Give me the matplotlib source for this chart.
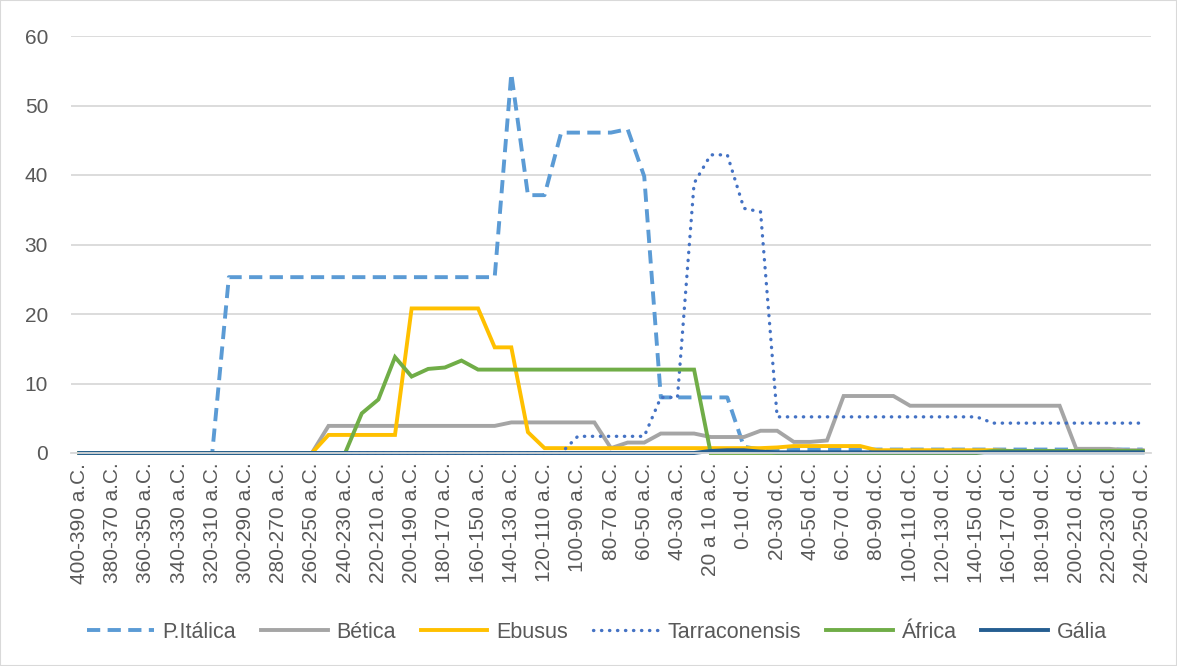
import matplotlib
matplotlib.use('Agg')
import matplotlib.pyplot as plt
from matplotlib.patches import Rectangle

# Category labels (10-year periods), one every 10 years
periods = [
    '400-390 a.C.', '390-380 a.C.', '380-370 a.C.', '370-360 a.C.', '360-350 a.C.',
    '350-340 a.C.', '340-330 a.C.', '330-320 a.C.', '320-310 a.C.', '310-300 a.C.',
    '300-290 a.C.', '290-280 a.C.', '280-270 a.C.', '270-260 a.C.', '260-250 a.C.',
    '250-240 a.C.', '240-230 a.C.', '230-220 a.C.', '220-210 a.C.', '210-200 a.C.',
    '200-190 a.C.', '190-180 a.C.', '180-170 a.C.', '170-160 a.C.', '160-150 a.C.',
    '150-140 a.C.', '140-130 a.C.', '130-120 a.C.', '120-110 a.C.', '110-100 a.C.',
    '100-90 a.C.', '90-80 a.C.', '80-70 a.C.', '70-60 a.C.', '60-50 a.C.',
    '50-40 a.C.', '40-30 a.C.', '30-20 a.C.', '20 a 10 a.C.', '10-0 a.C.',
    '0-10 d.C.', '10-20 d.C.', '20-30 d.C.', '30-40 d.C.', '40-50 d.C.',
    '50-60 d.C.', '60-70 d.C.', '70-80 d.C.', '80-90 d.C.', '90-100 d.C.',
    '100-110 d.C.', '110-120 d.C.', '120-130 d.C.', '130-140 d.C.', '140-150 d.C.',
    '150-160 d.C.', '160-170 d.C.', '170-180 d.C.', '180-190 d.C.', '190-200 d.C.',
    '200-210 d.C.', '210-220 d.C.', '220-230 d.C.', '230-240 d.C.', '240-250 d.C.',
]

italica = [
    0, 0, 0, 0, 0, 0, 0, 0, 0, 25.3, 25.3, 25.3, 25.3,
    25.3, 25.3, 25.3, 25.3, 25.3, 25.3, 25.3, 25.3, 25.3, 25.3, 25.3, 25.3, 25.3,
    54.6, 37.1, 37.1, 46.1, 46.1, 46.1, 46.1, 46.6, 39.8, 8.0, 8.0, 8.0, 8.0,
    8.0, 0.9, 0.5, 0.5, 0.5, 0.5, 0.5, 0.5, 0.5, 0.5, 0.5, 0.5, 0.5,
    0.5, 0.5, 0.5, 0.5, 0.5, 0.5, 0.5, 0.5, 0.5, 0.5, 0.5, 0.5, 0.5,
]
betica = [
    0, 0, 0, 0, 0, 0, 0, 0, 0, 0, 0, 0, 0,
    0, 0, 3.9, 3.9, 3.9, 3.9, 3.9, 3.9, 3.9, 3.9, 3.9, 3.9, 3.9,
    4.4, 4.4, 4.4, 4.4, 4.4, 4.4, 0.7, 1.5, 1.5, 2.8, 2.8, 2.8, 2.3,
    2.3, 2.3, 3.2, 3.2, 1.6, 1.6, 1.8, 8.2, 8.2, 8.2, 8.2, 6.8, 6.8,
    6.8, 6.8, 6.8, 6.8, 6.8, 6.8, 6.8, 6.8, 0.6, 0.6, 0.6, 0.4, 0.4,
]
ebusus = [
    0, 0, 0, 0, 0, 0, 0, 0, 0, 0, 0, 0, 0,
    0, 0, 2.6, 2.6, 2.6, 2.6, 2.6, 20.8, 20.8, 20.8, 20.8, 20.8, 15.2,
    15.2, 3.0, 0.7, 0.7, 0.7, 0.7, 0.7, 0.7, 0.7, 0.7, 0.7, 0.7, 0.7,
    0.7, 0.7, 0.7, 0.8, 1.0, 1.0, 1.0, 1.0, 1.0, 0.4, 0.4, 0.4, 0.4,
    0.4, 0.4, 0.4, 0.4, 0.3, 0.3, 0.3, 0.3, 0.3, 0.3, 0.3, 0.3, 0.3,
]
tarraconensis = [
    0, 0, 0, 0, 0, 0, 0, 0, 0, 0, 0, 0, 0,
    0, 0, 0, 0, 0, 0, 0, 0, 0, 0, 0, 0, 0,
    0, 0, 0, 0, 2.4, 2.4, 2.4, 2.4, 2.4, 8.0, 8.0, 38.8, 42.9,
    42.9, 35.2, 34.7, 5.2, 5.2, 5.2, 5.2, 5.2, 5.2, 5.2, 5.2, 5.2, 5.2,
    5.2, 5.2, 5.2, 4.3, 4.3, 4.3, 4.3, 4.3, 4.3, 4.3, 4.3, 4.3, 4.3,
]
africa = [
    0, 0, 0, 0, 0, 0, 0, 0, 0, 0, 0, 0, 0,
    0, 0, 0, 0, 5.7, 7.7, 13.8, 11.0, 12.1, 12.3, 13.3, 12.0, 12.0,
    12.0, 12.0, 12.0, 12.0, 12.0, 12.0, 12.0, 12.0, 12.0, 12.0, 12.0, 12.0, 0,
    0, 0, 0, 0, 0, 0, 0, 0, 0, 0, 0, 0, 0,
    0, 0, 0, 0.3, 0.3, 0.3, 0.3, 0.3, 0.3, 0.3, 0.3, 0.3, 0.3,
]
galia = [
    0, 0, 0, 0, 0, 0, 0, 0, 0, 0, 0, 0, 0,
    0, 0, 0, 0, 0, 0, 0, 0, 0, 0, 0, 0, 0,
    0, 0, 0, 0, 0, 0, 0, 0, 0, 0, 0, 0, 0.3,
    0.4, 0.4, 0.2, 0.1, 0.1, 0.1, 0.1, 0.1, 0.1, 0.1, 0.1, 0.1, 0.1,
    0.1, 0.1, 0.1, 0.1, 0.1, 0.1, 0.1, 0.1, 0.1, 0.1, 0.1, 0.1, 0.1,
]

series_names = ['P.Itálica', 'Bética', 'Ebusus', 'Tarraconensis', 'África', 'Gália']
y_ticks = [0, 10, 20, 30, 40, 50, 60]

TEXT_GREY = '#595959'
GRID_GREY = '#D9D9D9'


def plot_chart():
    plt.rcParams['font.family'] = ['Liberation Sans', 'DejaVu Sans']
    fig = plt.figure(figsize=(11.77, 6.66), dpi=100)
    ax = fig.add_axes([71 / 1177, 1 - 453 / 666, 1080 / 1177, 417 / 666])

    x = list(range(len(periods)))
    styles = [
        dict(color='#5B9BD5', linestyle=(0, (3.4, 1.9)), dash_capstyle='butt'),
        dict(color='#A5A5A5', linestyle='-'),
        dict(color='#FFC000', linestyle='-'),
        dict(color='#4472C4', linestyle=(0, (0.1, 2.3)), dash_capstyle='round', lw=2.4),
        dict(color='#70AD47', linestyle='-'),
        dict(color='#255E91', linestyle='-'),
    ]
    data = [italica, betica, ebusus, tarraconensis, africa, galia]
    for name, values, st in zip(series_names, data, styles):
        kw = dict(lw=2.8, solid_joinstyle='miter')
        kw.update(st)
        ax.plot(x, values, label=name, clip_on=False, **kw)

    ax.set_xlim(-0.5, len(periods) - 0.5)
    ax.set_ylim(0, 60)
    ax.set_yticks(y_ticks)
    ax.set_xticks(x[::2])
    ax.set_xticklabels(periods[::2], rotation=90, va='top', ha='center')

    ax.yaxis.grid(True, color=GRID_GREY, lw=1.3)
    ax.set_axisbelow(True)
    for side in ['top', 'right', 'left']:
        ax.spines[side].set_visible(False)
    ax.spines['bottom'].set_color(GRID_GREY)
    ax.spines['bottom'].set_linewidth(1.3)

    ax.tick_params(axis='both', length=0, colors=TEXT_GREY, labelsize=15)
    ax.tick_params(axis='y', pad=16.5)
    ax.tick_params(axis='x', pad=7)

    fig.legend(loc='center', bbox_to_anchor=(597 / 1177, 1 - 632 / 666), ncol=6, frameon=False,
               fontsize=15.5, labelcolor=TEXT_GREY, handlelength=3.1, handletextpad=0.4,
               columnspacing=1.15)

    fig.patches.append(Rectangle((0, 0), 1, 1, transform=fig.transFigure, fill=False,
                                 edgecolor=GRID_GREY, lw=1.5))
    fig.savefig('out.png', dpi=100)


def main():
    plot_chart()


if __name__ == '__main__':
    main()
